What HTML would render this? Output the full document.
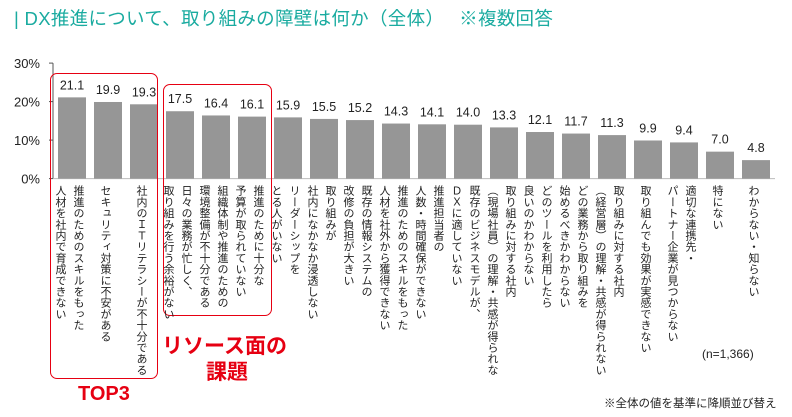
<!DOCTYPE html>
<html><head><meta charset="utf-8">
<style>
body{margin:0;background:#fff;width:792px;height:417px;overflow:hidden;position:relative;font-family:"Liberation Sans","Noto Sans CJK JP",sans-serif;}
#title{position:absolute;left:14px;top:5px;font-size:18.5px;color:#1aaba0;white-space:nowrap;letter-spacing:0.3px;font-family:"Liberation Sans","Noto Sans CJK JP",sans-serif;}
.vl{position:absolute;writing-mode:vertical-rl;font-size:11px;line-height:18px;letter-spacing:0.2px;color:#222;white-space:nowrap;font-family:"Noto Sans CJK JP",sans-serif;}
.box{position:absolute;border:1.6px solid #e60012;border-radius:7px;}
.red{position:absolute;color:#e60012;font-weight:bold;font-family:"Liberation Sans","Noto Sans CJK JP",sans-serif;}
</style></head><body>
<div id="title">| DX推進について、取り組みの障壁は何か（全体）　 ※複数回答</div>
<svg id="chart" width="792" height="417" style="position:absolute;left:0;top:0"></svg>
<div class="box" style="left:50px;top:73px;width:106px;height:304px"></div>
<div class="box" style="left:163px;top:84px;width:107px;height:230px"></div>
<div class="red" style="left:162px;top:330px;font-size:21px">リソース面の</div>
<div class="red" style="left:206px;top:356px;font-size:21px">課題</div>
<div class="red" style="left:78px;top:383px;font-size:20px">TOP3</div>
<div style="position:absolute;left:702px;top:347px;font-size:12px;color:#222">(n=1,366)</div>
<div style="position:absolute;left:604px;top:395px;font-size:11.5px;color:#222;font-family:'Noto Sans CJK JP',sans-serif">※全体の値を基準に降順並び替え</div>
<script>
const values=[21.1,19.9,19.3,17.5,16.4,16.1,15.9,15.5,15.2,14.3,14.1,14.0,13.3,12.1,11.7,11.3,9.9,9.4,7.0,4.8];
const categories=[
["推進のためのスキルをもった","人材を社内で育成できない"],
["セキュリティ対策に不安がある"],
["社内のＩＴリテラシーが不十分である"],
["日々の業務が忙しく、","取り組みを行う余裕がない"],
["組織体制や推進のための","環境整備が不十分である"],
["推進のために十分な","予算が取られていない"],
["リーダーシップを","とる人がいない"],
["取り組みが","社内になかなか浸透しない"],
["既存の情報システムの","改修の負担が大きい"],
["推進のためのスキルをもった","人材を社外から獲得できない"],
["推進担当者の","人数・時間確保ができない"],
["既存のビジネスモデルが、","ＤＸに適していない"],
["取り組みに対する社内","（現場社員）の理解・共感が得られな"],
["どのツールを利用したら","良いのかわからない"],
["どの業務から取り組みを","始めるべきかわからない"],
["取り組みに対する社内","（経営層）の理解・共感が得られない"],
["取り組んでも効果が実感できない"],
["適切な連携先・","パートナー企業が見つからない"],
["特にない"],
["わからない・知らない"]];
const ticks=[0,10,20,30];
const tickLabels=["0%","10%","20%","30%"];
const svg=document.getElementById('chart');
const NS='http://www.w3.org/2000/svg';
const y0=178.6, pxPer=3.85, x0=58, step=36, bw=28;
const y=v=>y0-v*pxPer;
const x=i=>x0+i*step;
function mk(t,a){const e=document.createElementNS(NS,t);for(const k in a)e.setAttribute(k,a[k]);svg.appendChild(e);return e;}
const ax=mk('line',{x1:53,x2:53,y1:y(30),y2:y0,stroke:'#555','stroke-width':1});


const bl=mk('line',{x1:53,x2:775,y1:y0,y2:y0,stroke:'#bbb','stroke-width':1});


ticks.forEach((t,i)=>{
  const tl=mk('line',{x1:49,x2:53,y1:y(t),y2:y(t),stroke:'#555'});
  
  
  const tx=mk('text',{x:40,y:y(t)+5,'text-anchor':'end','font-size':13,fill:'#222','font-family':'Liberation Sans, sans-serif'});
  tx.textContent=tickLabels[i];
  
  
});
values.forEach((v,i)=>{
  const r=mk('rect',{x:x(i),y:y(v),width:bw,height:y0-y(v),fill:'#969696'});
  
  
  const t=mk('text',{x:x(i)+bw/2,y:y(v)-8,'text-anchor':'middle','font-size':12.5,fill:'#222','font-family':'Liberation Sans, sans-serif'});
  t.textContent=v.toFixed(1);
  
  
  const d=document.createElement('div');
  d.className='vl';
  categories[i].forEach((line,j)=>{if(j)d.appendChild(document.createElement('br'));d.appendChild(document.createTextNode(line));});
  
  
  document.body.appendChild(d);
  const w=categories[i].length*18;
  d.style.left=(x(i)+bw/2-w/2-2)+'px';
  d.style.top='185px';
});
</script>
</body></html>
